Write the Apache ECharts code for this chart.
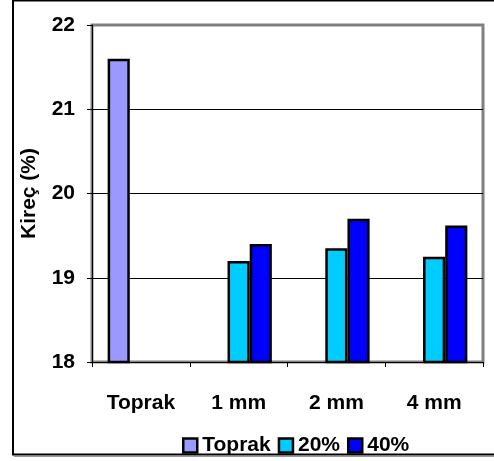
<!DOCTYPE html>
<html>
<head>
<meta charset="utf-8">
<script src="https://cdn.jsdelivr.net/npm/echarts@6/dist/echarts.min.js"></script>
<style>
  html, body { margin: 0; padding: 0; background: #fff; }
  #chart { width: 494px; height: 461px; }
</style>
</head>
<body>
<div id="chart"></div>
<script>
// Lime content (%) by sample type
const categories = ['Toprak', '1 mm', '2 mm', '4 mm'];
const seriesNames = ['Toprak', '20%', '40%'];
const toprakValues = [21.6, null, null, null];
const values20 = [null, 19.2, 19.35, 19.25];
const values40 = [null, 19.4, 19.7, 19.62];
const yTicks = [18, 19, 20, 21, 22];

const FONT = "'Liberation Sans', Arial, sans-serif";
const colors = ['#9999FF', '#00CCFF', '#0000FF'];
const seriesData = [toprakValues, values20, values40];
const FS = 21;

const chart = echarts.init(document.getElementById('chart'), null, { renderer: 'canvas' });

chart.setOption({
  animation: false,
  backgroundColor: '#fff',
  textStyle: { fontFamily: FONT },
  graphic: [
    {
      type: 'rect',
      shape: { x: 13, y: 0.5, width: 500, height: 454 },
      style: { fill: 'none', stroke: '#000', lineWidth: 2 },
      silent: true, z: -1
    },
    {
      type: 'line',
      shape: { x1: 14, y1: 456.5, x2: 494, y2: 456.5 },
      style: { stroke: '#999', lineWidth: 1 },
      silent: true, z: -1
    }
  ],
  grid: {
    left: 92, right: 11, top: 25, bottom: 99,
    show: true, borderColor: '#808080', borderWidth: 3,
    outerBoundsMode: 'none'
  },
  legend: {
    data: seriesNames.map((n, i) => ({
      name: n,
      itemStyle: { color: colors[i], borderColor: '#000', borderWidth: 2.5 }
    })),
    left: 177, top: 430,
    itemWidth: 14, itemHeight: 14, itemGap: 7,
    icon: 'rect',
    textStyle: { fontSize: FS, fontWeight: 'bold', color: '#000', fontFamily: FONT }
  },
  xAxis: {
    type: 'category',
    data: categories,
    axisLine: { lineStyle: { color: '#000', width: 1 } },
    axisTick: { show: true, length: 5, lineStyle: { color: '#000' } },
    axisLabel: { margin: 31, fontSize: FS, fontWeight: 'bold', color: '#000', fontFamily: FONT }
  },
  yAxis: {
    type: 'value',
    min: yTicks[0], max: yTicks[yTicks.length - 1], interval: 1,
    name: 'Kireç (%)',
    nameLocation: 'middle',
    nameGap: 52,
    nameRotate: 90,
    nameTextStyle: { fontSize: FS, fontWeight: 'bold', color: '#000', fontFamily: FONT },
    axisLine: { show: true, lineStyle: { color: '#000', width: 1 } },
    axisTick: { show: true, length: 5, lineStyle: { color: '#000' } },
    axisLabel: { margin: 17, fontSize: FS, fontWeight: 'bold', color: '#000', fontFamily: FONT },
    splitLine: { show: true, lineStyle: { color: ['#000', '#000', '#000', '#000', '#808080'], width: 1 } }
  },
  series: seriesNames.map((name, i) => ({
    name: name,
    type: 'bar',
    data: seriesData[i],
    barGap: '0%',
    barCategoryGap: '32%',
    itemStyle: { color: colors[i], borderColor: '#000', borderWidth: 2.5 }
  }))
});
</script>
</body>
</html>
